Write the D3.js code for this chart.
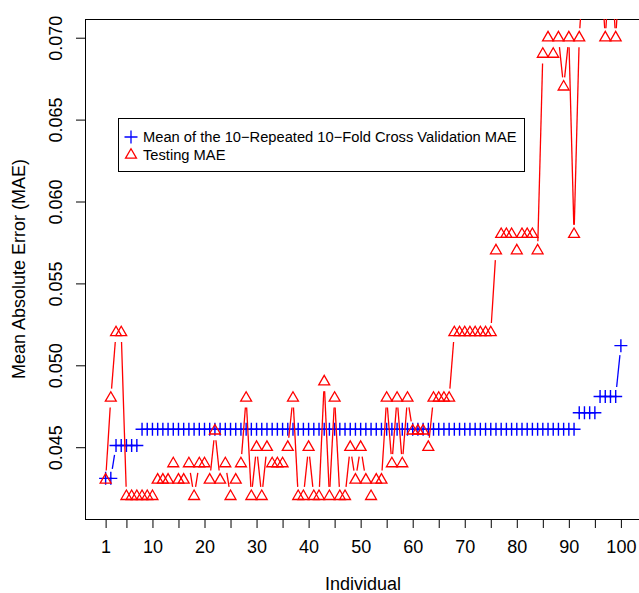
<!DOCTYPE html>
<html>
<head>
	<meta charset="utf-8">
	<script src="https://cdn.jsdelivr.net/npm/d3@7"></script>
	<style>
		body { margin: 0; background: #fff; }
		text { font-family: "Liberation Sans", Arial, sans-serif; fill: #000; }
	</style>
</head>
<body>
	<svg width="639" height="593"></svg>

	<script>
		// individuals 1..100
		var individuals = d3.range(1, 101)

		var cvMae = [
			0.0431, 0.0431, 0.0451, 0.0451, 0.0451, 0.0451, 0.0451, 0.0461, 0.0461, 0.0461,
			0.0461, 0.0461, 0.0461, 0.0461, 0.0461, 0.0461, 0.0461, 0.0461, 0.0461, 0.0461,
			0.0461, 0.0461, 0.0461, 0.0461, 0.0461, 0.0461, 0.0461, 0.0461, 0.0461, 0.0461,
			0.0461, 0.0461, 0.0461, 0.0461, 0.0461, 0.0461, 0.0461, 0.0461, 0.0461, 0.0461,
			0.0461, 0.0461, 0.0461, 0.0461, 0.0461, 0.0461, 0.0461, 0.0461, 0.0461, 0.0461,
			0.0461, 0.0461, 0.0461, 0.0461, 0.0461, 0.0461, 0.0461, 0.0461, 0.0461, 0.0461,
			0.0461, 0.0461, 0.0461, 0.0461, 0.0461, 0.0461, 0.0461, 0.0461, 0.0461, 0.0461,
			0.0461, 0.0461, 0.0461, 0.0461, 0.0461, 0.0461, 0.0461, 0.0461, 0.0461, 0.0461,
			0.0461, 0.0461, 0.0461, 0.0461, 0.0461, 0.0461, 0.0461, 0.0461, 0.0461, 0.0461,
			0.0461, 0.0471, 0.0471, 0.0471, 0.0471, 0.0481, 0.0481, 0.0481, 0.0481, 0.0512
		]

		var testMae = [
			0.043, 0.048, 0.052, 0.052, 0.042, 0.042, 0.042, 0.042, 0.042, 0.042,
			0.043, 0.043, 0.043, 0.044, 0.043, 0.043, 0.044, 0.042, 0.044, 0.044,
			0.043, 0.046, 0.043, 0.044, 0.042, 0.043, 0.044, 0.048, 0.042, 0.045,
			0.042, 0.045, 0.044, 0.044, 0.044, 0.045, 0.048, 0.042, 0.042, 0.045,
			0.042, 0.042, 0.049, 0.042, 0.048, 0.042, 0.042, 0.045, 0.043, 0.045,
			0.043, 0.042, 0.043, 0.043, 0.048, 0.044, 0.048, 0.044, 0.048, 0.046,
			0.046, 0.046, 0.045, 0.048, 0.048, 0.048, 0.048, 0.052, 0.052, 0.052,
			0.052, 0.052, 0.052, 0.052, 0.052, 0.057, 0.058, 0.058, 0.058, 0.057,
			0.058, 0.058, 0.058, 0.057, 0.069, 0.070, 0.069, 0.070, 0.067, 0.070,
			0.058, 0.070, 0.075, 0.075, 0.075, 0.075, 0.070, 0.075, 0.070, 0.075
		]

		var xTicks = [1, 5, 10, 15, 20, 25, 30, 35, 40, 45, 50, 55, 60, 65, 70, 75, 80, 85, 90, 95, 100]
		var xLabels = [1, 10, 20, 30, 40, 50, 60, 70, 80, 90, 100]
		var yTicks = [0.045, 0.050, 0.055, 0.060, 0.065, 0.070]
		var legendLabels = ['Mean of the 10\u2212Repeated 10\u2212Fold Cross Validation MAE', 'Testing MAE']

		var plotL = 85, plotR = 641.5, plotT = 19, plotB = 519

		var x = d3.scaleLinear().domain([-2.96, 103.96]).range([plotL, plotR])
		var y = d3.scaleLinear().domain([0.040617, 0.071142]).range([plotB, plotT])

		var svg = d3.select('svg')
		svg.append('rect').attr('width', 639).attr('height', 593).attr('fill', '#fff')

		svg.append('clipPath').attr('id', 'plot')
			.append('rect')
			.attr('x', plotL).attr('y', plotT)
			.attr('width', plotR - plotL).attr('height', plotB - plotT)

		// y axis, labels parallel to the axis
		var yAxis = svg.append('g')
			.attr('transform', 'translate(' + plotL + ',0)')
			.call(d3.axisLeft(y).tickValues(yTicks).tickSize(9).tickFormat(d3.format('.3f')))
		yAxis.select('.domain').remove()
		yAxis.selectAll('line').attr('stroke', '#000')
		yAxis.selectAll('text')
			.attr('x', null).attr('dy', null)
			.attr('text-anchor', 'middle')
			.attr('transform', 'translate(-23,0) rotate(-90)')
			.style('font-size', '18px')
			.style('font-family', '"Liberation Sans", Arial, sans-serif')

		// x axis
		var xAxis = svg.append('g')
			.attr('transform', 'translate(0,' + plotB + ')')
			.call(d3.axisBottom(x).tickValues(xTicks).tickSize(9).tickFormat(function(d) {
				return xLabels.indexOf(d) >= 0 ? d : ''
			}))
		xAxis.select('.domain').remove()
		xAxis.selectAll('line').attr('stroke', '#000')
		xAxis.selectAll('text')
			.attr('y', 34).attr('dy', null)
			.style('font-size', '18px')
			.style('font-family', '"Liberation Sans", Arial, sans-serif')

		svg.append('line')
			.attr('x1', x(1)).attr('x2', x(100))
			.attr('y1', plotB + 0.5).attr('y2', plotB + 0.5)
			.attr('stroke', '#000')

		svg.append('text')
			.attr('x', 363).attr('y', 590)
			.attr('text-anchor', 'middle')
			.style('font-size', '18px')
			.text('Individual')

		svg.append('text')
			.attr('transform', 'translate(25,' + (plotT + plotB) / 2 + ') rotate(-90)')
			.attr('text-anchor', 'middle')
			.style('font-size', '18px')
			.text('Mean Absolute Error (MAE)')

		// plot box
		svg.append('rect')
			.attr('x', plotL + 0.5).attr('y', plotT + 0.5)
			.attr('width', plotR - plotL).attr('height', plotB - plotT)
			.attr('fill', 'none').attr('stroke', '#000')

		var gap = 9.5
		var r = 6.3
		var triPath = 'M0,' + (-r) + 'L' + (r * Math.sqrt(3) / 2) + ',' + (r / 2) +
			'L' + (-r * Math.sqrt(3) / 2) + ',' + (r / 2) + 'Z'
		var crossPath = 'M-6.5,0H6.5M0,-6.5V6.5'

		// lines with gaps round each point, like type = "b"
		function segments(values) {
			var segs = []
			for (var i = 0; i < values.length - 1; i++) {
				var x1 = x(individuals[i]), y1 = y(values[i])
				var x2 = x(individuals[i + 1]), y2 = y(values[i + 1])
				var len = Math.sqrt((x2 - x1) * (x2 - x1) + (y2 - y1) * (y2 - y1))
				if (len <= 2 * gap) continue
				var ux = (x2 - x1) / len, uy = (y2 - y1) / len
				segs.push([x1 + ux * gap, y1 + uy * gap, x2 - ux * gap, y2 - uy * gap])
			}
			return segs
		}

		var plot = svg.append('g').attr('clip-path', 'url(#plot)')

		function drawSeries(values, color, shape, width) {
			var g = plot.append('g')
			g.selectAll('line')
				.data(segments(values))
				.enter()
				.append('line')
				.attr('x1', function(d) { return d[0] })
				.attr('y1', function(d) { return d[1] })
				.attr('x2', function(d) { return d[2] })
				.attr('y2', function(d) { return d[3] })
				.attr('stroke', color)
				.attr('stroke-width', 1.3)

			g.selectAll('path')
				.data(values)
				.enter()
				.append('path')
				.attr('d', shape)
				.attr('transform', function(d, i) {
					return 'translate(' + x(individuals[i]) + ',' + y(d) + ')'
				})
				.attr('fill', 'none')
				.attr('stroke', color)
				.attr('stroke-width', width)
		}

		drawSeries(cvMae, '#0000ff', crossPath, 1.4)
		drawSeries(testMae, '#ff0000', triPath, 1.3)

		// legend
		var legend = svg.append('g')
		legend.append('rect')
			.attr('x', 118.5).attr('y', 118.5)
			.attr('width', 406).attr('height', 53)
			.attr('fill', '#fff').attr('stroke', '#000')

		var shapes = [crossPath, triPath]
		var colors = ['#0000ff', '#ff0000']
		legendLabels.forEach(function(label, i) {
			var cy = 137 + i * 18
			legend.append('path')
				.attr('d', shapes[i])
				.attr('transform', 'translate(131,' + cy + ')')
				.attr('fill', 'none')
				.attr('stroke', colors[i])
				.attr('stroke-width', 1.3)
			legend.append('text')
				.attr('x', 143).attr('y', cy + 5)
				.style('font-size', '14.7px')
				.text(label)
		})
	</script>
</body>
</html>
